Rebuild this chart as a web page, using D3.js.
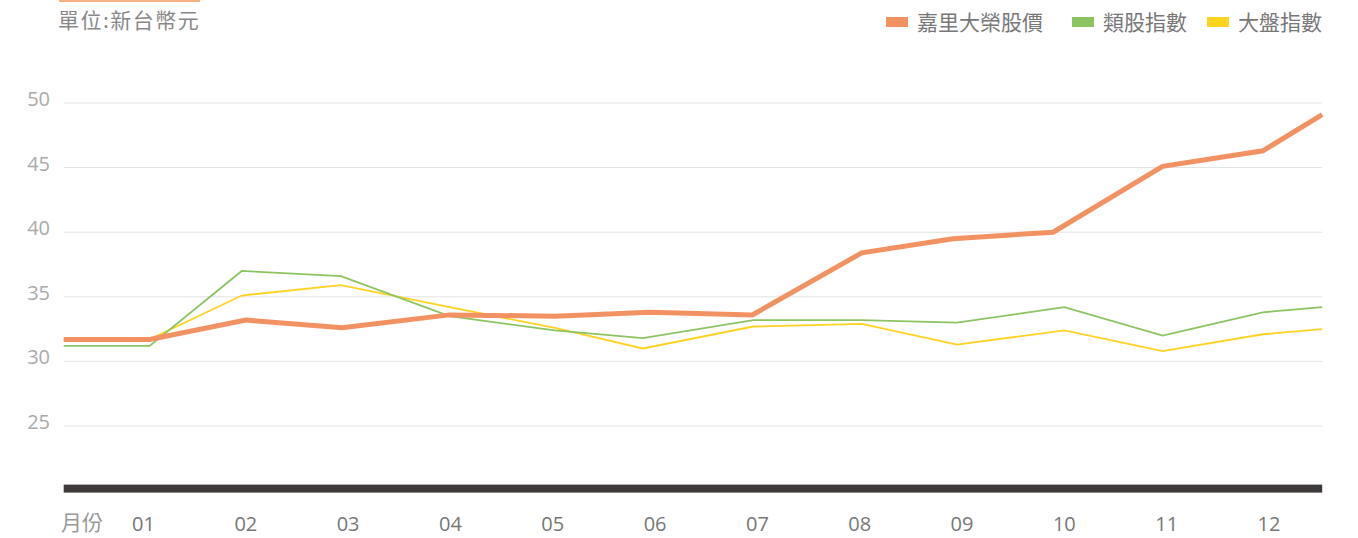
<!DOCTYPE html>
<html>
<head>
<meta charset="utf-8">
<script src="https://cdn.jsdelivr.net/npm/d3@7"></script>
<style>
    body { margin: 0; background: #fff; }
    svg text { font-family: "Open Sans", "Noto Sans CJK TC", sans-serif; }
</style>
</head>
<body>
<div id="chart"></div>
<script>
// month labels on the x axis
const monthLabels = ["01", "02", "03", "04", "05", "06", "07", "08", "09", "10", "11", "12"];
const yTicks = [25, 30, 35, 40, 45, 50];

// x position of each point, as a fractional month
const stockMonths = [0.22, 1.06, 2.0, 2.94, 3.99, 5.02, 5.95, 6.95, 8.02, 8.91, 9.89, 10.96, 11.94, 12.52];
const indexMonths = [0.22, 1.06, 1.96, 2.93, 3.99, 5.02, 5.88, 6.96, 8.02, 8.95, 10.0, 10.96, 11.94, 12.52];

// 嘉里大榮股價
const stockPrice = [31.7, 31.7, 33.2, 32.6, 33.6, 33.5, 33.8, 33.6, 38.4, 39.5, 40.0, 45.1, 46.3, 49.1];
// 類股指數
const sectorIndex = [31.2, 31.2, 37.0, 36.6, 33.5, 32.4, 31.8, 33.2, 33.2, 33.0, 34.2, 32.0, 33.8, 34.2];
// 大盤指數
const marketIndex = [31.7, 31.7, 35.1, 35.9, 34.2, 32.6, 31.0, 32.7, 32.9, 31.3, 32.4, 30.8, 32.1, 32.5];

const seriesNames = ["嘉里大榮股價", "類股指數", "大盤指數"];
const seriesColors = ["#f29263", "#8cc462", "#ffd31f"];

const WIDTH = 1358, HEIGHT = 538;

const svg = d3.select("#chart").append("svg")
    .attr("width", WIDTH)
    .attr("height", HEIGHT);

const x = d3.scaleLinear().domain([1, 12]).range([143.5, 1269]);
const y = d3.scaleLinear().domain([20, 50]).range([490.6, 103]);
const plotLeft = x(0.22), plotRight = x(12.52);

// unit label with accent line above
svg.append("rect")
    .attr("x", 59).attr("y", 0)
    .attr("width", 141).attr("height", 2)
    .attr("fill", "#f6b27e");
svg.append("text")
    .attr("x", 58).attr("y", 28)
    .attr("fill", "#888")
    .style("font-family", "'Noto Sans CJK TC', sans-serif")
    .style("font-size", "21px")
    .style("letter-spacing", "1.5px")
    .text("單位:新台幣元");

// gridlines
svg.append("g").selectAll("line")
    .data(yTicks)
    .join("line")
    .attr("x1", plotLeft).attr("x2", plotRight)
    .attr("y1", d => y(d)).attr("y2", d => y(d))
    .attr("stroke", "#e3e3e3")
    .attr("stroke-width", 1);

svg.append("g").selectAll("text")
    .data(yTicks)
    .join("text")
    .attr("x", 50)
    .attr("y", d => y(d) + 3)
    .attr("text-anchor", "end")
    .attr("fill", "#aaa")
    .style("font-size", "20px")
    .text(d => d);

// baseline bar
svg.append("rect")
    .attr("x", plotLeft)
    .attr("y", y(20) - 6)
    .attr("width", plotRight - plotLeft)
    .attr("height", 8)
    .attr("fill", "#3f3a3a");

// x labels
svg.append("text")
    .attr("x", 61).attr("y", 530)
    .attr("fill", "#999")
    .style("font-size", "21px")
    .text("月份");

svg.append("g").selectAll("text")
    .data(monthLabels)
    .join("text")
    .attr("x", (d, i) => x(i + 1))
    .attr("y", 531)
    .attr("text-anchor", "middle")
    .attr("fill", "#777")
    .style("font-size", "20px")
    .text(d => d);

// lines
const line = d3.line()
    .x(d => x(d[0]))
    .y(d => y(d[1]));

const series = [
    { name: seriesNames[2], xs: indexMonths, ys: marketIndex, color: seriesColors[2], width: 1.8 },
    { name: seriesNames[1], xs: indexMonths, ys: sectorIndex, color: seriesColors[1], width: 1.8 },
    { name: seriesNames[0], xs: stockMonths, ys: stockPrice, color: seriesColors[0], width: 5 }
];

svg.append("g").selectAll("path")
    .data(series)
    .join("path")
    .attr("d", s => line(s.xs.map((m, i) => [m, s.ys[i]])))
    .attr("fill", "none")
    .attr("stroke", s => s.color)
    .attr("stroke-width", s => s.width)
    .attr("stroke-linejoin", "miter");

// legend
const legendX = [886, 1072, 1207];
const legend = svg.append("g").selectAll("g")
    .data(seriesNames)
    .join("g")
    .attr("transform", (d, i) => `translate(${legendX[i]}, 0)`);

legend.append("rect")
    .attr("x", 0).attr("y", 17)
    .attr("width", 22).attr("height", 10)
    .attr("fill", (d, i) => seriesColors[i]);

legend.append("text")
    .attr("x", 31).attr("y", 30)
    .attr("fill", "#777")
    .style("font-size", "21px")
    .text(d => d);
</script>
</body>
</html>
